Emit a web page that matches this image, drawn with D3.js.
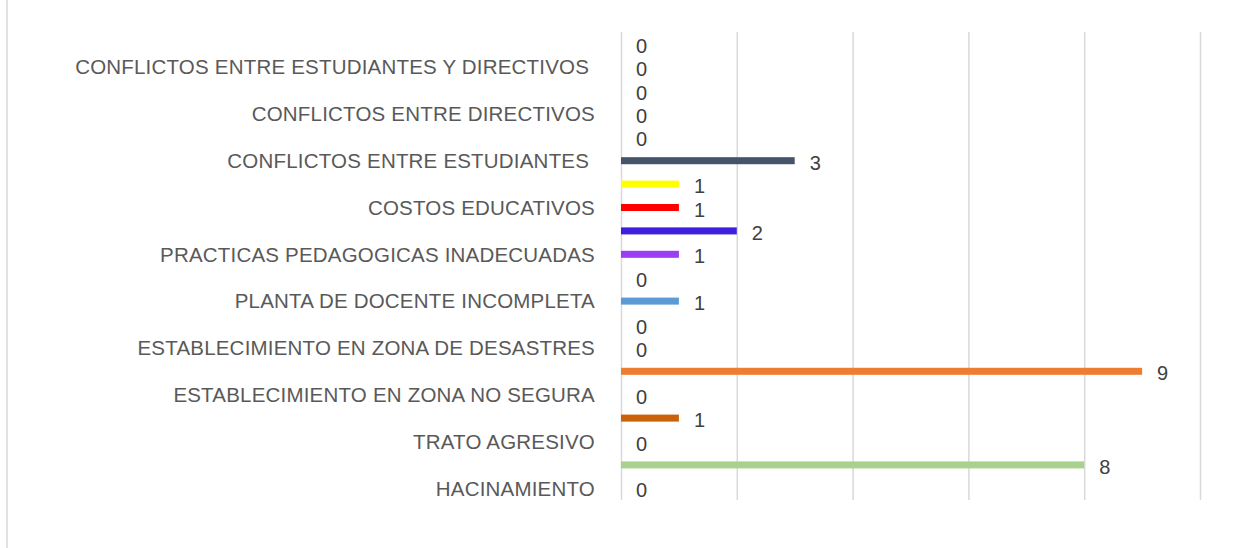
<!DOCTYPE html>
<html>
<head>
<meta charset="utf-8">
<script src="https://cdn.jsdelivr.net/npm/d3@7"></script>
<style>
  body { margin: 0; background: #fff; }
  svg { display: block; font-family: "Liberation Sans", Arial, sans-serif; }
  .catAxis text { fill: #595959; font-size: 20.5px; letter-spacing: 0.2px; white-space: pre; }
  .valueLabel { fill: #404040; font-size: 20px; }
</style>
</head>
<body>
<div class="chartBox"></div>
<script>
// shown category labels, one for every other slot (bottom to top)
const categories = [
  "HACINAMIENTO",
  "TRATO AGRESIVO",
  "ESTABLECIMIENTO EN ZONA NO SEGURA",
  "ESTABLECIMIENTO EN ZONA DE DESASTRES",
  "PLANTA DE DOCENTE INCOMPLETA",
  "PRACTICAS PEDAGOGICAS INADECUADAS",
  "COSTOS EDUCATIVOS",
  "CONFLICTOS ENTRE ESTUDIANTES ",
  "CONFLICTOS ENTRE DIRECTIVOS",
  "CONFLICTOS ENTRE ESTUDIANTES Y DIRECTIVOS "
];

// one value per slot, bottom to top
const values = [0, 8, 0, 1, 0, 9, 0, 0, 1, 0, 1, 2, 1, 1, 3, 0, 0, 0, 0, 0];

// bar colour per slot
const barColors = [
  "#A9D18E", "#A9D18E", "#C55A11", "#C96209", "#ED7D31", "#ED7D31",
  "#5B9BD5", "#5B9BD5", "#5B9BD5", "#9B3DF5", "#9B3DF5", "#3F1FDF",
  "#FF0000", "#FFFF00", "#44546A", "#44546A", "#44546A", "#44546A",
  "#44546A", "#44546A"
];

const gridTicks = [0, 2, 4, 6, 8, 10];

const width = 1235, height = 548;
const plot = { left: 621, right: 1200, top: 32, bottom: 500 };

const svg = d3.select(".chartBox").append("svg")
  .attr("width", width)
  .attr("height", height);

// left border of the chart frame
svg.append("line")
  .attr("x1", 7).attr("x2", 7)
  .attr("y1", 0).attr("y2", height)
  .attr("stroke", "#D9D9D9")
  .attr("stroke-width", 1.5);

const x = d3.scaleLinear()
  .domain([0, 10])
  .range([plot.left, plot.right]);

const slots = d3.range(values.length);
const y = d3.scaleBand()
  .domain(slots)
  .range([plot.bottom, plot.top])
  .paddingInner(0.7)
  .paddingOuter(0.35);

//vertical gridlines
const grid = svg.append("g")
  .attr("transform", `translate(0,${plot.bottom})`)
  .call(d3.axisBottom(x).tickValues(gridTicks).tickSize(-(plot.bottom - plot.top)).tickFormat(""));
grid.select(".domain").remove();
grid.selectAll(".tick line")
  .attr("stroke", "#D9D9D9")
  .attr("stroke-width", 1.5);

//category axis, labels on every other slot
const catAxis = svg.append("g")
  .attr("class", "catAxis")
  .attr("transform", `translate(${plot.left},0)`)
  .call(d3.axisLeft(y)
    .tickValues(slots.filter(d => d % 2 === 0))
    .tickFormat(d => categories[d / 2])
    .tickSize(0)
    .tickPadding(26));
catAxis.select(".domain").remove();
catAxis.selectAll("text").attr("font-size", null).attr("font-family", null).attr("dy", "0.36em");

//bars
svg.append("g")
  .selectAll("rect")
  .data(values)
  .join("rect")
    .attr("x", x(0))
    .attr("y", (d, i) => y(i))
    .attr("width", d => x(d) - x(0))
    .attr("height", y.bandwidth())
    .attr("fill", (d, i) => barColors[i]);

//value labels
svg.append("g")
  .selectAll("text")
  .data(values)
  .join("text")
    .attr("class", "valueLabel")
    .attr("x", d => x(d) + 15)
    .attr("y", (d, i) => y(i) + y.bandwidth() / 2 + 9)
    .text(d => d);
</script>
</body>
</html>
